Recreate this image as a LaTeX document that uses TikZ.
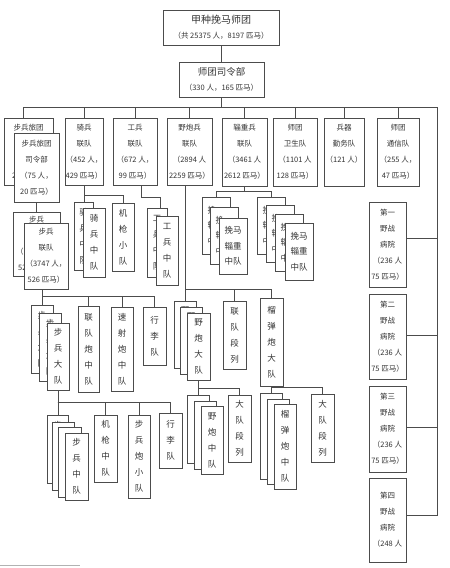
\documentclass[tikz,border=0pt]{standalone}
\usepackage{fontspec}
\newfontfamily\cjk{Noto Sans CJK SC}
\usetikzlibrary{backgrounds}
\tikzset{
  box/.style={draw=black!70, line width=0.8pt, fill=white, inner sep=0pt, align=center, text=black!80},
  ln/.style={draw=black!70, line width=0.7pt},
  top/.style={font=\cjk\fontsize{10}{15}\selectfont},
  row/.style={font=\cjk\fontsize{7.5}{16}\selectfont},
  ch/.style={font=\cjk\fontsize{8.5}{16}\selectfont},
  zz/.style={font=\cjk\fontsize{8.5}{15.5}\selectfont},
}
\newcommand\mkbox[7][]{\node[box,#1,minimum width={(#5-#3)*1pt},minimum height={(#6-#4)*1pt}] (#2) at ({(#3+#5)/2},{(#4+#6)/2}) {#7};}
\newcommand\zzback{挽\phantom{马}\\辎\phantom{重}\\中\phantom{队}}
\begin{document}
\begin{tikzpicture}[x=1pt,y=-1pt]
\useasboundingbox (0,0) rectangle (450,568);
% top
\mkbox[top]{T0}{163}{10}{279}{45}{甲种挽马师团\\{\fontsize{7.5}{9}\selectfont （共 25375 人，8197 匹马）}}
\mkbox[top]{T1}{179}{62}{264}{97}{{\fontsize{9.5}{12}\selectfont 师团司令部}\\{\fontsize{7.5}{9}\selectfont （330 人，165 匹马）}}
% row 1
\mkbox[row]{BB}{4}{118}{53}{185}{步兵旅团\\\phantom{司令部}\\\phantom{（75 人，}\\2\phantom{0 匹马）}}
\mkbox[row]{BF}{14}{133}{59}{202}{步兵旅团\\司令部\\（75 人，\\20 匹马）}
\mkbox[row]{QB}{65}{118}{103}{185}{骑兵\\联队\\（452 人，\\429 匹马）}
\mkbox[row]{GB}{113}{118}{157}{185}{工兵\\联队\\（672 人，\\99 匹马）}
\mkbox[row]{YP}{167}{118}{212}{185}{野炮兵\\联队\\（2894 人\\2259 匹马）}
\mkbox[row]{ZZ}{222}{118}{267}{186}{辎重兵\\联队\\（3461 人\\2612 匹马）}
\mkbox[row]{WS}{273}{118}{317}{186}{师团\\卫生队\\（1101 人\\128 匹马）}
\mkbox[row]{BQ}{324}{118}{364}{186}{兵器\\勤务队\\（121 人）\\\phantom{人}}
\mkbox[row]{TX}{377}{118}{419}{186}{师团\\通信队\\（255 人，\\47 匹马）}
% row 2
\mkbox[ch]{QZb}{74}{202}{93}{270}{骑\\兵\\中\\队}
\mkbox[ch]{QZf}{83}{208}{105}{277}{骑\\兵\\中\\队}
\mkbox[ch]{JQ}{112}{203}{134}{271}{机\\枪\\小\\队}
\mkbox[ch]{GZb}{147}{208}{167}{277}{工\\兵\\中\\队}
\mkbox[ch]{GZf}{156}{216}{178}{285}{工\\兵\\中\\队}
\mkbox[row]{UBb}{13}{212}{60}{276}{步兵\\\phantom{联队}\\（\phantom{3747 人，}\\52\phantom{6 匹马）}}
\mkbox[row]{UBf}{24}{223}{68}{289}{步兵\\联队\\（3747 人，\\526 匹马）}
\mkbox[zz]{ZL1}{202}{197}{230}{254}{\zzback}
\mkbox[zz]{ZL2}{210}{207}{238}{264}{\zzback}
\mkbox[zz]{ZL3}{219}{218}{247}{274}{挽马\\辎重\\中队}
\mkbox[zz]{ZR1}{257}{197}{285}{254}{\zzback}
\mkbox[zz]{ZR2}{266}{205}{294}{262}{\zzback}
\mkbox[zz]{ZR3}{275}{214}{303}{271}{\zzback}
\mkbox[zz]{ZR4}{285}{223}{313}{280}{挽马\\辎重\\中队}
% hospitals
\mkbox[row]{H1}{369}{202}{406}{287}{第一\\野战\\病院\\（236 人\\75 匹马）}
\mkbox[row]{H2}{369}{294}{406}{379}{第二\\野战\\病院\\（236 人\\75 匹马）}
\mkbox[row]{H3}{369}{386}{406}{472}{第三\\野战\\病院\\（236 人\\75 匹马）}
\mkbox[row]{H4}{369}{478}{406}{562}{第四\\野战\\病院\\（248 人}
% row 3
\mkbox[ch]{UD1}{31}{305}{53}{373}{步\\兵\\大\\队}
\mkbox[ch]{UD2}{39}{313}{61}{381}{步\\兵\\大\\队}
\mkbox[ch]{UD3}{47}{323}{69}{390}{步\\兵\\大\\队}
\mkbox[ch]{LP}{78}{306}{99}{392}{联\\队\\炮\\中\\队}
\mkbox[ch]{SS}{111}{307}{133}{391}{速\\射\\炮\\中\\队}
\mkbox[ch]{XL1}{143}{307}{166}{365}{行\\李\\队}
\mkbox[ch]{YD1}{174}{301}{196}{368}{野\\炮\\大\\队}
\mkbox[ch]{YD2}{180}{307}{202}{374}{野\\炮\\大\\队}
\mkbox[ch]{YD3}{187}{313}{210}{380}{野\\炮\\大\\队}
\mkbox[ch]{LDL}{223}{301}{246}{369}{联\\队\\段\\列}
\mkbox[ch]{LD}{260}{298}{283}{386}{榴\\弹\\炮\\大\\队}
% row 4
\mkbox[ch]{UZ1}{47}{415}{68}{483}{步\\兵\\中\\队}
\mkbox[ch]{UZ2}{52}{422}{74}{490}{步\\兵\\中\\队}
\mkbox[ch]{UZ3}{58}{427}{81}{497}{步\\兵\\中\\队}
\mkbox[ch]{UZ4}{65}{433}{88}{500}{步\\兵\\中\\队}
\mkbox[ch]{JQZ}{94}{415}{117}{482}{机\\枪\\中\\队}
\mkbox[ch]{BPX}{128}{415}{150}{498}{步\\兵\\炮\\小\\队}
\mkbox[ch]{XL2}{159}{413}{182}{468}{行\\李\\队}
\mkbox[ch]{YZ1}{187}{395}{209}{463}{野\\炮\\中\\队}
\mkbox[ch]{YZ2}{194}{401}{216}{469}{野\\炮\\中\\队}
\mkbox[ch]{YZ3}{201}{406}{223}{474}{野\\炮\\中\\队}
\mkbox[ch]{DL1}{228}{395}{251}{462}{大\\队\\段\\列}
\mkbox[ch]{LZ1}{260}{393}{282}{479}{榴\\弹\\炮\\中\\队}
\mkbox[ch]{LZ2}{267}{399}{289}{484}{榴\\弹\\炮\\中\\队}
\mkbox[ch]{LZ3}{274}{404}{296}{489}{榴\\弹\\炮\\中\\队}
\mkbox[ch]{DL2}{311}{394}{334}{462}{大\\队\\段\\列}
% connectors
\begin{pgfonlayer}{background}
\coordinate (busL) at (23,107);
\coordinate (busR) at (437,107);
\draw[ln] (T0.south) -- (T0.south |- T1.north);
\draw[ln] (T1.south) -- (T1.south |- busL);
\draw[ln] (busL) -- (busR);
\draw[ln] (busL) -- (busL |- BB.north);
\foreach \n in {QB,GB,YP,ZZ,WS,BQ,TX} \draw[ln] (\n.north) -- (\n.north |- busL);
\draw[ln] ([yshift=6.5pt]H1.east) -| (busR);
\draw[ln] ([yshift=1.5pt]H2.east) -| (busR);
\draw[ln] ([yshift=2pt]H3.east) -| (busR);
\draw[ln] ([yshift=5pt]H4.east) -| (busR);
\draw[ln] (BF.south) -- (BF.south |- UBb.north);
\draw[ln] (QB.south) -- (QB.south |- QZb.north);
\draw[ln] (QB.south) -- ++(0,10) -| (JQ.north);
\draw[ln] ([xshift=6pt]GB.south) -- ++(0,12) -| ([xshift=3pt]GZb.north);
\draw[ln] ([xshift=-4.5pt]YP.south) -- ([xshift=-4.5pt]YP.south |- YD1.north);
\draw[ln] ([yshift=11pt]YD1.north) -| (LDL.north);
\draw[ln] ([yshift=11pt]YD1.north) -| (LD.north);
\draw[ln] (ZZ.south) -- ++(0,6);
\draw[ln] (ZL1.north) -- ++(0,-5) -| (ZR1.north);
\draw[ln] ([xshift=-4pt]UBf.south) -- ([xshift=-4pt]UBf.south |- UD1.north);
\foreach \n in {LP,SS,XL1} \draw[ln] ([yshift=8pt]UD1.north) -| (\n.north);
\draw[ln] (UD3.south) -- (UD3.south |- UZ1.north);
\foreach \n in {JQZ,BPX,XL2} \draw[ln] ([yshift=12pt]UZ1.north) -| (\n.north);
\draw[ln] (YD3.south) -- (YD3.south |- YZ1.north);
\draw[ln] ([yshift=6pt]YZ1.north) -| (DL1.north);
\draw[ln] (LD.south) -- (LD.south |- LZ1.north);
\draw[ln] ([yshift=5pt]LZ1.north) -| (DL2.north);
\draw[black!30, line width=0.5pt] (0,565) -- (80,565);
\end{pgfonlayer}
\end{tikzpicture}
\end{document}
